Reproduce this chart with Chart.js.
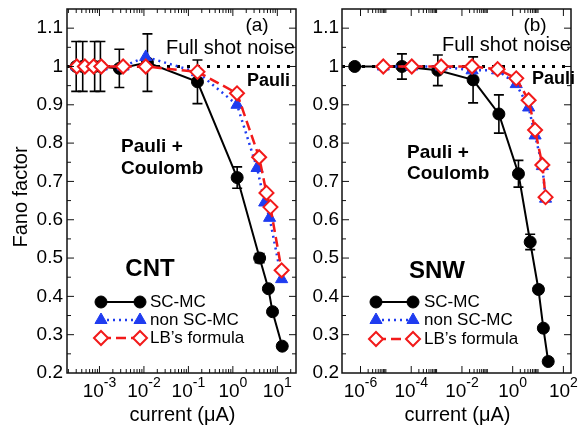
<!DOCTYPE html>
<html>
<head>
<meta charset="utf-8">
<script src="https://cdn.jsdelivr.net/npm/chart.js@4.4.0/dist/chart.umd.min.js"></script>
<style>
  html, body { margin: 0; padding: 0; background: #fff; }
  #wrap { position: relative; width: 580px; height: 428px; overflow: hidden; }
  canvas { position: absolute; top: 0; }
  #chartA { left: 0; }
  #chartB { left: 305px; }
</style>
</head>
<body>
<div id="wrap">
  <canvas id="chartA" width="305" height="428"></canvas>
  <canvas id="chartB" width="275" height="428"></canvas>
</div>
<script>
// Fano factor vs current, CNT (a) and SNW (b)

const FONT = "'Liberation Sans', Arial, Helvetica, sans-serif";
const RED = '#f21a1a';
const BLUE = '#1f3cf0';

const seriesNames = ['SC-MC', 'non SC-MC', 'LB\u2019s formula'];
const yTicks = [0.2, 0.3, 0.4, 0.5, 0.6, 0.7, 0.8, 0.9, 1.0, 1.1];

// panel (a) CNT
const cntTickExp = [-3, -2, -1, 0, 1];
const cntScX = [3.0e-4, 4.2e-4, 7.8e-4, 1.05e-3, 2.8e-3, 0.012, 0.16, 1.25, 4.0, 6.3, 7.8, 12.9];
const cntScY = [1.0, 1.0, 1.0, 1.0, 0.995, 1.01, 0.96, 0.71, 0.50, 0.42, 0.36, 0.27];
const cntScErr = [0.065, 0.065, 0.065, 0.065, 0.05, 0.075, 0.057, 0.028, 0.012, 0, 0, 0];
const cntNonX = [3.1e-4, 4.7e-4, 7.4e-4, 1.1e-3, 3.4e-3, 0.011, 0.16, 1.24, 3.5, 5.2, 6.7, 12.5];
const cntNonY = [1.0, 1.0, 1.0, 1.0, 1.0, 1.025, 0.985, 0.90, 0.735, 0.645, 0.605, 0.445];
const cntLbX = [3.1e-4, 4.7e-4, 7.4e-4, 1.1e-3, 3.4e-3, 0.011, 0.16, 1.24, 3.9, 5.7, 7.0, 12.5];
const cntLbY = [1.0, 1.0, 1.0, 1.0, 1.0, 1.0, 0.986, 0.93, 0.763, 0.67, 0.633, 0.468];

// panel (b) SNW
const snwTickExp = [-6, -4, -2, 0, 2];
const snwScX = [5.9e-7, 4.3e-5, 1.12e-3, 0.0275, 0.286, 1.69, 4.9, 10.4, 16.2, 25.2];
const snwScY = [1.0, 1.0, 0.99, 0.965, 0.876, 0.72, 0.542, 0.418, 0.317, 0.23];
const snwScErr = [0, 0.033, 0.04, 0.06, 0.05, 0.035, 0.02, 0, 0, 0];
const snwNonX = [7.9e-6, 1.05e-4, 1.51e-3, 0.025, 0.254, 1.38, 4.26, 7.66, 14.8, 19.8];
const snwNonY = [1.0, 1.0, 1.0, 0.99, 0.99, 0.954, 0.893, 0.82, 0.74, 0.655];
const snwLbX = [7.9e-6, 1.05e-4, 1.51e-3, 0.025, 0.254, 1.38, 4.26, 7.66, 14.8, 19.8];
const snwLbY = [1.0, 1.0, 1.0, 1.0, 0.993, 0.969, 0.912, 0.834, 0.743, 0.659];

function pts(xs, ys) {
    return xs.map((x, i) => ({ x: x, y: ys[i] }));
}

function makeDatasets(sc, non, lb) {
    // index 0 is drawn on top
    return [
        { label: seriesNames[2], data: lb, showLine: true, borderColor: RED, borderWidth: 2.5, borderDash: [10, 5],
          pointStyle: 'rectRot', pointRadius: 7, pointBackgroundColor: '#fff', pointBorderColor: RED, pointBorderWidth: 2 },
        { label: seriesNames[1], data: non, showLine: true, borderColor: BLUE, borderWidth: 2.5, borderDash: [2, 4],
          pointStyle: 'triangle', pointRadius: 7, pointBackgroundColor: BLUE, pointBorderColor: BLUE, pointBorderWidth: 1 },
        { label: seriesNames[0], data: sc, showLine: true, borderColor: '#000', borderWidth: 2,
          pointStyle: 'circle', pointRadius: 6, pointBackgroundColor: '#000', pointBorderColor: '#000', pointBorderWidth: 1 }
    ];
}

function txt(ctx, s, x, y, size, bold, align) {
    ctx.font = (bold ? 'bold ' : '') + size + 'px ' + FONT;
    ctx.textAlign = align || 'left';
    ctx.textBaseline = 'middle';
    ctx.fillStyle = '#000';
    ctx.fillText(s, x, y);
}

function decoPlugin(d) {
    return {
        id: 'deco',
        beforeDatasetsDraw(chart) {
            const ctx = chart.ctx, a = chart.chartArea;
            const xs = chart.scales.x, ys = chart.scales.y;
            ctx.save();
            ctx.beginPath();
            ctx.rect(a.left, a.top, a.right - a.left, a.bottom - a.top);
            ctx.clip();
            // full shot noise line
            ctx.strokeStyle = '#000';
            ctx.lineWidth = 3;
            ctx.setLineDash([3, 7]);
            const y1 = ys.getPixelForValue(1);
            ctx.beginPath();
            ctx.moveTo(a.left, y1);
            ctx.lineTo(a.right, y1);
            ctx.stroke();
            ctx.setLineDash([]);
            // error bars on SC-MC
            ctx.lineWidth = 1.6;
            d.errX.forEach((xv, i) => {
                const e = d.errE[i];
                if (!e) return;
                const px = xs.getPixelForValue(xv);
                const t = ys.getPixelForValue(d.errY[i] + e);
                const b = ys.getPixelForValue(d.errY[i] - e);
                ctx.beginPath();
                ctx.moveTo(px, t); ctx.lineTo(px, b);
                ctx.moveTo(px - 5, t); ctx.lineTo(px + 5, t);
                ctx.moveTo(px - 5, b); ctx.lineTo(px + 5, b);
                ctx.stroke();
            });
            ctx.restore();
        },
        afterDraw(chart) {
            const ctx = chart.ctx, a = chart.chartArea;
            const xs = chart.scales.x, ys = chart.scales.y;
            ctx.save();

            // frame
            ctx.strokeStyle = '#111';
            ctx.lineWidth = 1.5;
            ctx.strokeRect(a.left, a.top, a.right - a.left, a.bottom - a.top);

            // inward ticks
            ctx.lineWidth = 1;
            const tickX = (v, len) => {
                const px = xs.getPixelForValue(v);
                if (px < a.left + 1 || px > a.right - 1) return;
                ctx.beginPath();
                ctx.moveTo(px, a.bottom); ctx.lineTo(px, a.bottom - len);
                ctx.moveTo(px, a.top); ctx.lineTo(px, a.top + len);
                ctx.stroke();
            };
            const tickY = (v, len) => {
                const py = ys.getPixelForValue(v);
                if (py < a.top + 1 || py > a.bottom - 1) return;
                ctx.beginPath();
                ctx.moveTo(a.left, py); ctx.lineTo(a.left + len, py);
                ctx.moveTo(a.right, py); ctx.lineTo(a.right - len, py);
                ctx.stroke();
            };
            d.tickExp.forEach(n => tickX(Math.pow(10, n), 7));
            d.minorDecades.forEach(n => {
                for (let k = 2; k <= d.minorTop; k++) tickX(k * Math.pow(10, n), 4);
            });
            yTicks.forEach(v => { tickY(v, 7); tickY(v + 0.05, 4); });

            // x tick labels with superscripts
            ctx.fillStyle = '#000';
            ctx.textAlign = 'left';
            ctx.textBaseline = 'alphabetic';
            d.tickExp.forEach(n => {
                const px = xs.getPixelForValue(Math.pow(10, n));
                const e = String(n);
                ctx.font = '19px ' + FONT;
                const wb = ctx.measureText('10').width;
                ctx.font = '14px ' + FONT;
                const we = ctx.measureText(e).width;
                const x0 = px - (wb + we) / 2;
                ctx.font = '19px ' + FONT;
                ctx.fillText('10', x0, 397);
                ctx.font = '14px ' + FONT;
                ctx.fillText(e, x0 + wb, 387);
            });

            // axis titles
            txt(ctx, 'current (\u03bcA)', (a.left + a.right) / 2 + 1, 415, 20, false, 'center');
            if (d.yTitle) {
                ctx.save();
                ctx.translate(21, 197);
                ctx.rotate(-Math.PI / 2);
                txt(ctx, d.yTitle, 0, 0, 20, false, 'center');
                ctx.restore();
            }

            // annotations
            d.notes.forEach(t => txt(ctx, t.s, t.x, t.y, t.size, t.bold, t.align));

            // legend: line with a marker on each end
            chart.data.datasets.slice().reverse().forEach((ds, i) => {
                const ly = d.legY[i];
                ctx.save();
                ctx.strokeStyle = ds.borderColor;
                ctx.lineWidth = ds.borderWidth;
                ctx.setLineDash(ds.borderDash || []);
                ctx.beginPath();
                ctx.moveTo(d.legX1, ly);
                ctx.lineTo(d.legX2, ly);
                ctx.stroke();
                ctx.setLineDash([]);
                [d.legX1, d.legX2].forEach(px => {
                    ctx.fillStyle = ds.pointBackgroundColor;
                    ctx.strokeStyle = ds.pointBorderColor;
                    ctx.lineWidth = ds.pointBorderWidth;
                    Chart.helpers.drawPoint(ctx, {
                        pointStyle: ds.pointStyle, radius: ds.pointRadius,
                        rotation: 0, borderWidth: ds.pointBorderWidth
                    }, px, ly);
                });
                ctx.restore();
                txt(ctx, ds.label, d.legText, ly, 17, false, 'left');
            });

            ctx.restore();
        }
    };
}

function makeChart(id, datasets, xMin, xMax, yAxisW, padRight, deco) {
    return new Chart(document.getElementById(id), {
        type: 'scatter',
        data: { datasets: datasets },
        options: {
            responsive: false,
            animation: false,
            layout: { padding: { top: 8, right: padRight, left: 0, bottom: 0 } },
            plugins: { legend: { display: false }, tooltip: { enabled: false } },
            scales: {
                x: {
                    type: 'logarithmic', min: xMin, max: xMax,
                    grid: { display: false, drawTicks: false },
                    border: { display: false },
                    ticks: { display: false },
                    afterFit: s => { s.height = 55; s.paddingLeft = 0; s.paddingRight = 0; }
                },
                y: {
                    type: 'linear', min: 0.2, max: 1.15,
                    grid: { display: false, drawTicks: false },
                    border: { display: false },
                    afterBuildTicks: s => { s.ticks = yTicks.map(v => ({ value: v })); },
                    afterFit: s => { s.width = yAxisW; s.paddingTop = 0; s.paddingBottom = 0; },
                    ticks: {
                        autoSkip: false, color: '#000', padding: deco.yPad,
                        font: { family: FONT, size: 19 },
                        callback: v => String(Number(v.toFixed(1)))
                    }
                }
            }
        },
        plugins: [decoPlugin(deco)]
    });
}

makeChart('chartA', makeDatasets(pts(cntScX, cntScY), pts(cntNonX, cntNonY), pts(cntLbX, cntLbY)),
    Math.pow(10, -3.73), Math.pow(10, 1.42), 67, 5, {
        errX: cntScX, errY: cntScY, errE: cntScErr,
        tickExp: cntTickExp, minorDecades: [-4, -3, -2, -1, 0, 1], minorTop: 9,
        yPad: 4, yTitle: 'Fano factor',
        legX1: 101, legX2: 140, legText: 150, legY: [302, 320, 338],
        notes: [
            { s: '(a)', x: 257, y: 26, size: 19, bold: false, align: 'center' },
            { s: 'Full shot noise', x: 166, y: 48, size: 20, bold: false },
            { s: 'Pauli', x: 247, y: 81, size: 18, bold: true },
            { s: 'Pauli +', x: 121, y: 147, size: 19, bold: true },
            { s: 'Coulomb', x: 121, y: 169, size: 19, bold: true },
            { s: 'CNT', x: 150, y: 269, size: 24, bold: true, align: 'center' }
        ]
    });

makeChart('chartB', makeDatasets(pts(snwScX, snwScY), pts(snwNonX, snwNonY), pts(snwLbX, snwLbY)),
    Math.pow(10, -6.73), Math.pow(10, 2.3), 37, 4, {
        errX: snwScX, errY: snwScY, errE: snwScErr,
        tickExp: snwTickExp, minorDecades: [-6, -4, -2, 0], minorTop: 10,
        yPad: 3, yTitle: null,
        legX1: 71, legX2: 108, legText: 119, legY: [302, 320, 339],
        notes: [
            { s: '(b)', x: 230, y: 26, size: 19, bold: false, align: 'center' },
            { s: 'Full shot noise', x: 137, y: 45, size: 20, bold: false },
            { s: 'Pauli', x: 227, y: 79, size: 18, bold: true },
            { s: 'Pauli +', x: 102, y: 153, size: 19, bold: true },
            { s: 'Coulomb', x: 102, y: 174, size: 19, bold: true },
            { s: 'SNW', x: 132, y: 271, size: 24, bold: true, align: 'center' }
        ]
    });
</script>
</body>
</html>
